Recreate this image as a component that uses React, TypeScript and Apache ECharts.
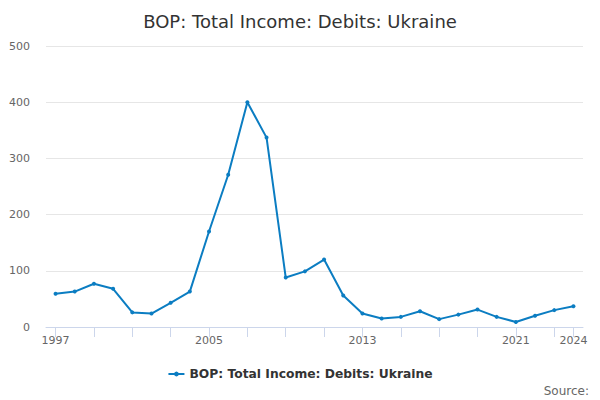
import React, { useEffect, useRef } from "react";
import * as echarts from "echarts";

const years = [
  "1997", "1998", "1999", "2000", "2001", "2002", "2003", "2004", "2005", "2006",
  "2007", "2008", "2009", "2010", "2011", "2012", "2013", "2014", "2015", "2016",
  "2017", "2018", "2019", "2020", "2021", "2022", "2023", "2024",
];
const debits = [
  59, 63, 77, 68, 26, 24, 43, 63, 170, 271,
  400, 337, 88, 99, 120, 56, 24, 15, 18, 28,
  14, 22, 31, 18, 9, 20, 30, 37,
];
const seriesName = "BOP: Total Income: Debits: Ukraine";
const titleText = "BOP: Total Income: Debits: Ukraine";
const yTicks = [0, 100, 200, 300, 400, 500];

const FONT = "DejaVu Sans";
const LINE_COLOR = "#0b7dc2";

export default function App() {
  const ref = useRef<HTMLDivElement>(null);
  useEffect(() => {
    if (!ref.current) return;
    const chart = echarts.init(ref.current, undefined, { renderer: "svg" });
    const last = years.length - 1;
    chart.setOption({
      animation: false,
      backgroundColor: "#ffffff",
      textStyle: { fontFamily: FONT },
      title: {
        text: titleText,
        left: "center",
        top: 7,
        textStyle: { fontFamily: FONT, fontSize: 18, fontWeight: "normal", color: "#333333" },
      },
      legend: {
        bottom: 15,
        left: "center",
        itemWidth: 16,
        itemHeight: 6,
        itemGap: 10,
        textStyle: { fontFamily: FONT, fontSize: 12.3, fontWeight: "bold", color: "#333333" },
        data: [seriesName],
      },
      graphic: [
        {
          type: "text",
          right: 11,
          bottom: 3,
          style: { text: "Source:", fontFamily: FONT, fontSize: 12, fill: "#666666" },
        },
      ],
      grid: { left: 46, right: 17, top: 46, bottom: 73, containLabel: false },
      xAxis: {
        type: "category",
        data: years,
        boundaryGap: true,
        axisLine: { show: true, lineStyle: { color: "#ccd6eb", width: 1 } },
        axisTick: {
          show: true,
          alignWithLabel: true,
          length: 10,
          lineStyle: { color: "#ccd6eb" },
          interval: (i: number) => i % 2 === 0 || i === last,
        },
        axisLabel: {
          color: "#666666",
          fontFamily: FONT,
          fontSize: 11,
          margin: 8,
          interval: (i: number) => i % 8 === 0 || i === last,
        },
        splitLine: { show: false },
      },
      yAxis: {
        type: "value",
        min: yTicks[0],
        max: yTicks[yTicks.length - 1],
        interval: 100,
        axisLine: { show: false },
        axisTick: { show: false },
        axisLabel: { color: "#666666", fontFamily: FONT, fontSize: 11, margin: 16 },
        splitLine: { lineStyle: { color: "#e6e6e6", width: 1 } },
      },
      series: [
        {
          name: seriesName,
          type: "line",
          data: debits,
          symbol: "circle",
          symbolSize: 4,
          showSymbol: true,
          itemStyle: { color: LINE_COLOR },
          lineStyle: { color: LINE_COLOR, width: 2 },
        },
      ],
    });
    return () => chart.dispose();
  }, []);
  return (
    <div
      ref={ref}
      style={{ position: "fixed", left: 0, top: 0, width: 600, height: 400 }}
    />
  );
}
